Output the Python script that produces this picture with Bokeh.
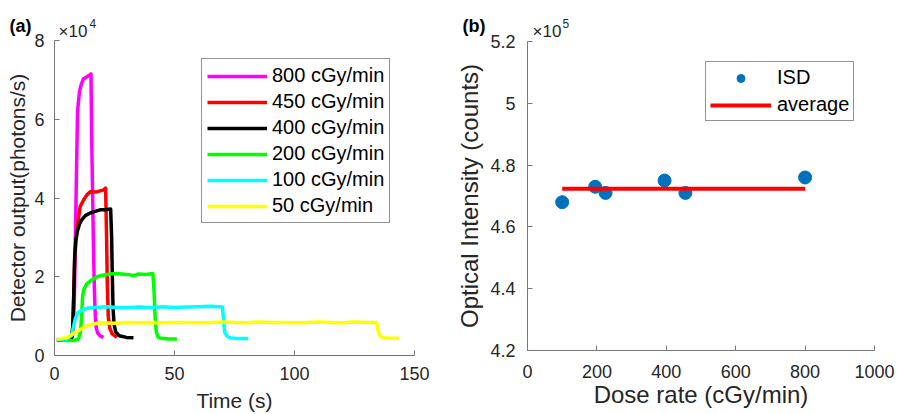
from bokeh.plotting import figure
from bokeh.models import (Range1d, FixedTicker, Legend, LegendItem, Label)
from bokeh.layouts import row, column
from bokeh.embed import file_html
from bokeh.resources import INLINE

# ---------------- data: panel (a), detector output (x1e4 photons/s) ----------------
t_800 = [1, 3, 5, 7, 7.5, 8.0, 8.3, 8.7, 9.2, 9.6, 10.4, 11.2, 12.1, 13.5, 14.5, 15.2,
         15.5, 15.9, 16.3, 16.7, 17.0, 17.4, 18.0, 19.0, 20.4]
y_800 = [0.40, 0.40, 0.41, 0.44, 0.5, 0.9, 1.5, 3.0, 4.8, 6.2, 6.7, 6.9, 7.03, 7.08, 7.12, 7.15,
         5.5, 4.0, 2.5, 1.5, 1.0, 0.7, 0.57, 0.5, 0.46]

t_450 = [1, 3, 5, 7.2, 7.7, 8.0, 8.4, 8.9, 9.3, 10.0, 10.7, 12.1, 13.5, 14.9, 16.3, 17.7,
         19.0, 20.3, 21.3, 21.7, 22.0, 22.4, 23.0, 24.0, 26.0]
y_450 = [0.40, 0.40, 0.41, 0.45, 0.8, 1.5, 2.4, 2.9, 3.1, 3.5, 3.78, 3.95, 4.08, 4.16, 4.15, 4.16,
         4.18, 4.2, 4.25, 3.0, 1.8, 1.0, 0.7, 0.55, 0.46]

t_400 = [1, 3, 5, 7.0, 7.6, 8.0, 8.4, 8.9, 9.5, 10.5, 11.4, 13.0, 14.9, 17.0, 19.0, 21.0,
         23.4, 23.8, 24.1, 24.4, 24.8, 25.5, 27.0, 30.0, 32.9]
y_400 = [0.40, 0.40, 0.40, 0.42, 0.7, 1.5, 2.5, 2.95, 3.15, 3.35, 3.45, 3.56, 3.62, 3.66, 3.7, 3.7,
         3.72, 3.0, 2.0, 1.2, 0.8, 0.6, 0.5, 0.46, 0.45]

t_200 = [1, 5, 8, 10, 10.8, 11.3, 11.7, 12.2, 13.5, 15.5, 17.7, 20, 23, 26, 30, 33, 35, 38,
         41.0, 41.5, 41.9, 42.4, 43.2, 45, 48, 51]
y_200 = [0.40, 0.38, 0.38, 0.42, 0.6, 1.0, 1.5, 1.68, 1.82, 1.92, 2.0, 2.04, 2.07, 2.08, 2.06,
         2.03, 2.07, 2.06, 2.08, 1.6, 1.0, 0.6, 0.46, 0.43, 0.42, 0.42]

t_100 = [1, 5, 7, 7.8, 8.6, 9.6, 11, 13.5, 17, 21.8, 26, 30, 35, 40, 45, 50, 55, 60, 65, 70,
         70.4, 70.9, 71.8, 73, 76, 80.8]
y_100 = [0.42, 0.42, 0.5, 0.7, 0.92, 1.08, 1.14, 1.2, 1.22, 1.24, 1.22, 1.21, 1.23, 1.22, 1.24,
         1.22, 1.23, 1.24, 1.25, 1.23, 0.9, 0.6, 0.5, 0.45, 0.43, 0.43]

t_50 = [1, 3, 5, 7, 9, 10.7, 13, 14.9, 19, 25, 30, 35, 40, 45, 50, 55, 60, 65, 70, 75, 80, 85,
        90, 95, 100, 105, 110, 115, 120, 125, 130, 134.2, 134.8, 135.5, 137, 140, 143.6]
y_50 = [0.42, 0.43, 0.45, 0.52, 0.6, 0.66, 0.74, 0.78, 0.83, 0.82, 0.84, 0.83, 0.84, 0.83, 0.84,
        0.84, 0.83, 0.84, 0.85, 0.84, 0.83, 0.85, 0.84, 0.84, 0.83, 0.84, 0.85, 0.84, 0.83, 0.85,
        0.84, 0.84, 0.65, 0.5, 0.45, 0.44, 0.44]

series_a = [
    ("800 cGy/min", "#FF00FF", t_800, y_800),
    ("450 cGy/min", "#FF0000", t_450, y_450),
    ("400 cGy/min", "#000000", t_400, y_400),
    ("200 cGy/min", "#00FF00", t_200, y_200),
    ("100 cGy/min", "#00FFFF", t_100, y_100),
    ("50 cGy/min", "#FFFF00", t_50, y_50),
]
xticks_a = [0, 50, 100, 150]
yticks_a = [0, 2, 4, 6, 8]

# ---------------- data: panel (b), optical intensity (x1e5 counts) ----------------
dose_rate = [100, 195, 225, 395, 455, 800]
isd = [4.68, 4.73, 4.71, 4.75, 4.71, 4.76]
avg_x = [100, 800]
avg_val = sum(isd) / len(isd)
avg_y = [avg_val, avg_val]
xticks_b = [0, 200, 400, 600, 800, 1000]
yticks_b = [4.2, 4.4, 4.6, 4.8, 5.0, 5.2]
ylabels_b = ["4.2", "4.4", "4.6", "4.8", "5", "5.2"]

FONT = "Liberation Sans"
AX = "#777777"
TXT = "#262626"
H = 414


def style_axes(p, tick_size, label_size, xstand, ystand, xlab_stand, ylab_stand):
    for ax in (p.xaxis[0], p.yaxis[0]):
        ax.axis_line_color = AX
        ax.axis_line_width = 1
        ax.major_tick_line_color = AX
        ax.major_tick_in = 5
        ax.major_tick_out = 0
        ax.minor_tick_line_color = None
        ax.major_label_text_font = FONT
        ax.major_label_text_font_size = tick_size
        ax.major_label_text_color = TXT
        ax.axis_label_text_font = FONT
        ax.axis_label_text_font_size = label_size
        ax.axis_label_text_font_style = "normal"
        ax.axis_label_text_color = TXT
    p.xaxis[0].major_label_standoff = xstand
    p.yaxis[0].major_label_standoff = ystand
    p.xaxis[0].axis_label_standoff = xlab_stand
    p.yaxis[0].axis_label_standoff = ylab_stand
    p.xgrid.visible = False
    p.ygrid.visible = False
    p.outline_line_color = None
    p.background_fill_color = "white"
    p.border_fill_color = "white"


def add_text(p, side, x, y, dx, dy, text, size, bold=False, color=TXT):
    # text placed outside the frame: put it in a side panel so it is not clipped
    p.add_layout(Label(x=x, y=y, x_offset=dx, y_offset=dy, text=text, text_font=FONT,
                       text_font_size=size, text_font_style="bold" if bold else "normal",
                       text_color=color, text_baseline="alphabetic", text_align="left"),
                 side)


# ---------------- panel (a) ----------------
pa = figure(width=450, height=H, output_backend="svg", toolbar_location=None,
            x_range=Range1d(0, 150), y_range=Range1d(0, 8),
            min_border_left=54, min_border_right=36, min_border_top=40, min_border_bottom=58,
            x_axis_label="Time (s)", y_axis_label="Detector output(photons/s)")
pa.xaxis.ticker = FixedTicker(ticks=xticks_a)
pa.yaxis.ticker = FixedTicker(ticks=yticks_a)
style_axes(pa, "18px", "21px", 11, 10, 6, 2)

items_a = []
for name, col, tt, yy in series_a:
    r = pa.line(tt, yy, line_color=col, line_width=3.5, line_join="round")
    items_a.append(LegendItem(label=name, renderers=[r]))

leg_a = Legend(items=items_a, location=(147, 132), padding=5, margin=0, spacing=3,
               glyph_width=60, glyph_height=20, label_height=20, label_standoff=5,
               label_text_font=FONT, label_text_font_size="20px", label_text_color="black",
               border_line_color="#262626", border_line_width=1,
               background_fill_color="white", background_fill_alpha=1)
pa.add_layout(leg_a)

add_text(pa, "above", 0, 8, -45, 15, "(a)", "18px", bold=True, color="black")
add_text(pa, "above", 0, 8, 4, 9, "\u00d710", "17px")
add_text(pa, "right", 0, 8, 35, 17, "4", "12px")

# ---------------- panel (b) ----------------
pb = figure(width=447, height=H, output_backend="svg", toolbar_location=None,
            x_range=Range1d(0, 1000), y_range=Range1d(4.2, 5.2),
            min_border_left=77, min_border_right=23, min_border_top=41, min_border_bottom=64,
            x_axis_label="Dose rate (cGy/min)", y_axis_label="Optical Intensity (counts)")
pb.xaxis.ticker = FixedTicker(ticks=xticks_b)
pb.yaxis.ticker = FixedTicker(ticks=yticks_b)
pb.yaxis.major_label_overrides = dict(zip(yticks_b, ylabels_b))
style_axes(pb, "18px", "24px", 14, 12, 0, 4)

r_isd = pb.scatter(dose_rate, isd, size=13, marker="circle",
                   fill_color="#0072BD", line_color="#0072BD")
r_avg = pb.line(avg_x, avg_y, line_color="#FF0000", line_width=4)

leg_b = Legend(items=[LegendItem(label="ISD", renderers=[r_isd]),
                      LegendItem(label="average", renderers=[r_avg])],
               location=(178, 229), padding=4, margin=0, spacing=4,
               glyph_width=61, glyph_height=20, label_height=20, label_standoff=6,
               label_text_font=FONT, label_text_font_size="20px", label_text_color="black",
               border_line_color="#262626", border_line_width=1,
               background_fill_color="white", background_fill_alpha=1)
pb.add_layout(leg_b)

add_text(pb, "above", 0, 5.2, -65, 16, "(b)", "18px", bold=True, color="black")
add_text(pb, "above", 0, 5.2, 5, 10, "\u00d710", "17px")
add_text(pb, "right", 0, 5.2, 35, 18, "5", "12px")

layout = row(column(pa), column(pb))
open("out.html", "w").write(file_html(layout, INLINE))
